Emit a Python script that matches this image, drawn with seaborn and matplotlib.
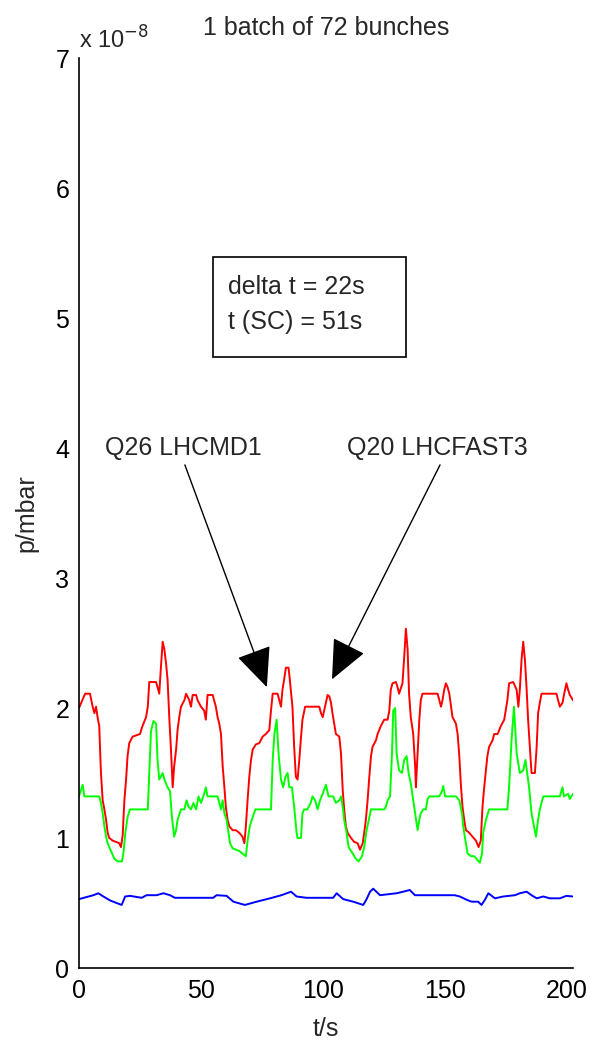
import matplotlib
matplotlib.use("Agg")
import matplotlib.pyplot as plt
import seaborn as sns
from matplotlib.patches import Rectangle

# ---------------- data (pressure in units of 1e-8 mbar) ----------------
red_t = [0, 2.5, 4.5, 5.6, 6.3, 7, 7.6, 8.3, 9, 9.7, 10.4, 11.1, 11.75, 12.4, 13.8, 15.2, 16.5, 17.2, 17.9, 18.6,
         19.3, 19.9, 20.6, 22, 25, 26, 27.5, 28.2, 28.8, 31.6, 32.2, 32.9, 33.6, 34.3, 35, 35.7, 36.3, 37, 37.7, 38.4,
         39, 39.8, 40.4, 41.1, 41.8, 43.2, 43.9, 45.2, 45.9, 46.6, 48, 48.6, 50, 51.3, 52, 52.7, 54.8, 56.1, 56.8, 57.5,
         58.2, 58.9, 59.6, 60.2, 60.9, 61.6, 63, 64.3, 65.7, 67, 67.8, 68.4, 69.1, 69.8, 70.5, 71.2, 72.5, 73.9, 75.3, 76.6,
         78, 78.7, 79.4, 81.4, 82.1, 82.8, 83.4, 84.1, 84.8, 85.9, 86.4, 87.5, 88.2, 88.9, 89.6, 90.3, 90.9, 91.6, 92.7, 98.5,
         99.2, 99.9, 100.5, 101.2, 101.9, 102.6, 103.3, 103.9, 104.6, 105.3, 106.7, 107.4, 108.1, 108.7, 109.4, 110.1, 111.5, 112.8, 114.2, 115.2,
         116.3, 116.9, 117.6, 118.3, 119, 119.7, 120.3, 121.7, 122.4, 123.7, 125.1, 126.5, 127.2, 127.8, 128.5, 129.9, 130.6, 131.2, 132.6, 133.3,
         134, 134.7, 135.3, 136, 137, 137.8, 138.1, 138.8, 139.5, 140.1, 140.8, 147, 147.7, 148.4, 149, 149.7, 150.4, 151.1, 151.8, 152.5,
         153.1, 154.5, 155.2, 155.9, 156.5, 157.2, 157.9, 158.6, 160, 161.3, 162.7, 163.8, 164.7, 165.4, 166.1, 166.8, 167.4, 168.1, 169.5, 170.2,
         171.6, 172.9, 174.3, 174.9, 175.6, 176.3, 178, 179.4, 180.1, 180.7, 181.4, 182.1, 182.8, 183.5, 184.1, 184.8, 185.5, 186.9, 187.6, 188.2,
         188.9, 189.6, 195.7, 196.4, 197.1, 198.2, 198.9, 199.8, 200.5, 201.2, 202.5]
red_p = [2.00, 2.11, 2.11, 2.01, 1.96, 2.01, 1.93, 1.86, 1.50, 1.29, 1.22, 1.14, 1.04, 1.00, 0.98, 0.97, 0.96, 0.93, 1.02, 1.29,
         1.45, 1.63, 1.73, 1.78, 1.80, 1.86, 1.93, 2.01, 2.20, 2.20, 2.16, 2.11, 2.32, 2.51, 2.45, 2.34, 2.22, 1.93, 1.68, 1.39,
         1.55, 1.68, 1.83, 1.93, 2.01, 2.06, 2.11, 2.06, 2.01, 2.10, 2.10, 2.06, 2.01, 1.98, 1.91, 2.10, 2.10, 2.01, 1.93, 1.88,
         1.80, 1.55, 1.39, 1.24, 1.14, 1.09, 1.06, 1.06, 1.04, 1.01, 0.96, 1.09, 1.29, 1.47, 1.60, 1.68, 1.72, 1.73, 1.78, 1.80,
         1.83, 1.98, 2.11, 2.11, 2.06, 2.01, 2.14, 2.22, 2.31, 2.31, 2.22, 2.01, 1.70, 1.47, 1.45, 1.60, 1.75, 1.91, 2.01, 2.01,
         1.96, 1.93, 1.98, 2.04, 2.10, 2.09, 2.04, 1.96, 1.88, 1.80, 1.78, 1.65, 1.37, 1.22, 1.09, 1.04, 1.00, 0.97, 0.96, 0.91,
         0.96, 1.04, 1.14, 1.29, 1.47, 1.63, 1.70, 1.75, 1.80, 1.86, 1.91, 1.91, 1.98, 2.14, 2.19, 2.20, 2.16, 2.11, 2.19, 2.39,
         2.61, 2.45, 2.11, 1.93, 1.80, 1.55, 1.39, 1.65, 1.91, 2.06, 2.11, 2.11, 2.06, 2.01, 2.06, 2.14, 2.19, 2.16, 2.11, 2.01,
         1.93, 1.88, 1.80, 1.63, 1.42, 1.24, 1.14, 1.06, 1.04, 1.01, 0.98, 0.93, 0.98, 1.24, 1.39, 1.52, 1.63, 1.70, 1.75, 1.80,
         1.80, 1.86, 1.91, 1.98, 2.06, 2.19, 2.20, 2.14, 2.01, 2.14, 2.37, 2.51, 2.37, 2.14, 1.91, 1.70, 1.50, 1.50, 1.70, 1.96,
         2.04, 2.11, 2.11, 2.06, 2.01, 2.04, 2.11, 2.19, 2.14, 2.10, 2.06]

green_t = [0, 1.5, 2.2, 8.3, 9, 9.7, 10.4, 11.1, 11.75, 13.1, 14.5, 15.9, 17.6, 18.2, 19, 19.9, 20.9, 28.2, 28.8, 29.5,
           30.5, 31.6, 32.2, 32.9, 34.3, 35, 36.3, 37.3, 38.1, 39, 39.8, 40.4, 41.8, 43.2, 44.1, 44.9, 45.9, 46.9, 48, 49,
           50, 51.3, 52, 52.7, 56.8, 57.5, 58.2, 58.9, 59.6, 60.5, 61.3, 61.9, 63, 64.3, 65.7, 67, 68.4, 69.1, 70, 71.2,
           72.3, 78.7, 79.4, 80.1, 81, 81.8, 82.8, 83.7, 84.6, 85.5, 86.2, 87.3, 88.2, 89.2, 89.6, 91, 91.6, 92.3, 93.6, 95,
           95.7, 96.8, 97.8, 98.8, 99.9, 101.2, 102.3, 104.2, 105.3, 106.7, 107.4, 108.1, 108.7, 109.7, 110.5, 112.2, 113.5, 114.6, 116, 116.9,
           117.9, 119, 119.7, 125.1, 125.8, 126.5, 127.5, 128.3, 128.8, 129.6, 130.2, 131.2, 132.4, 133.3, 134.3, 135.1, 136, 137, 137.8, 138.8,
           139.5, 140.1, 141.1, 142.2, 142.9, 143.6, 147.7, 148.8, 149.3, 150.1, 154.5, 155.9, 157, 157.5, 158.4, 159.3, 160.7, 162, 163.4, 164.3,
           165.2, 165.7, 166.8, 168.1, 175.6, 176.3, 177.3, 178.3, 178.7, 179.4, 180.7, 182.1, 183, 183.7, 184.5, 185.5, 186.5, 187.3, 188.2, 188.9,
           190.3, 197.1, 198.2, 198.8, 200.5, 201.2, 202.5]
green_p = [1.32, 1.41, 1.32, 1.32, 1.27, 1.19, 1.09, 1.01, 0.96, 0.90, 0.84, 0.82, 0.82, 0.88, 1.04, 1.16, 1.22, 1.22, 1.50, 1.82,
           1.90, 1.88, 1.60, 1.45, 1.50, 1.45, 1.39, 1.36, 1.16, 1.01, 1.06, 1.14, 1.22, 1.22, 1.29, 1.24, 1.22, 1.27, 1.22, 1.32,
           1.27, 1.34, 1.39, 1.32, 1.32, 1.27, 1.22, 1.29, 1.19, 1.14, 1.04, 0.96, 0.92, 0.91, 0.90, 0.88, 0.86, 0.98, 1.09, 1.16,
           1.22, 1.22, 1.60, 1.80, 1.91, 1.65, 1.45, 1.39, 1.47, 1.50, 1.39, 1.39, 1.24, 1.04, 1.00, 1.00, 1.19, 1.22, 1.22, 1.27,
           1.32, 1.29, 1.22, 1.29, 1.34, 1.41, 1.32, 1.32, 1.27, 1.29, 1.32, 1.24, 1.14, 1.04, 0.93, 0.88, 0.84, 0.82, 0.86, 0.93,
           1.06, 1.16, 1.22, 1.22, 1.24, 1.29, 1.32, 1.65, 1.98, 2.00, 1.65, 1.52, 1.50, 1.60, 1.63, 1.50, 1.42, 1.29, 1.19, 1.06,
           1.14, 1.19, 1.22, 1.22, 1.30, 1.32, 1.32, 1.36, 1.40, 1.32, 1.32, 1.29, 1.19, 1.09, 0.98, 0.88, 0.86, 0.86, 0.83, 0.81,
           0.88, 1.04, 1.14, 1.22, 1.22, 1.39, 1.75, 2.01, 1.88, 1.65, 1.50, 1.52, 1.60, 1.50, 1.39, 1.19, 1.09, 1.01, 1.14, 1.22,
           1.32, 1.32, 1.39, 1.32, 1.34, 1.30, 1.34]

blue_t = [0, 5.9, 7.9, 10, 12.7, 15.4, 17.5, 18.9, 20.9, 25.7, 27.7, 31.8, 34.6, 37.3, 39.3, 55, 56.4, 60.5, 63.3, 68,
          72.8, 78.3, 83, 86.9, 89.2, 93.3, 104.2, 105.6, 108.3, 112.4, 116.5, 117.9, 119.3, 120.6, 123.4, 130.2, 132.9, 135.6, 137.7, 154,
          156.1, 158.9, 160.9, 163.6, 165, 166.4, 167.8, 170.5, 173.9, 178.7, 180.7, 183.5, 185.5, 187.6, 190.3, 193, 197.1, 199.8, 202.5]
blue_p = [0.53, 0.56, 0.575, 0.55, 0.52, 0.50, 0.485, 0.55, 0.555, 0.54, 0.56, 0.56, 0.575, 0.56, 0.54, 0.54, 0.56, 0.555, 0.51, 0.485,
          0.51, 0.536, 0.56, 0.587, 0.55, 0.54, 0.54, 0.575, 0.53, 0.51, 0.485, 0.53, 0.587, 0.61, 0.56, 0.575, 0.587, 0.60, 0.56, 0.56,
          0.55, 0.525, 0.51, 0.51, 0.485, 0.525, 0.575, 0.536, 0.55, 0.56, 0.575, 0.587, 0.56, 0.536, 0.55, 0.536, 0.536, 0.555, 0.55]

x_ticks = [0, 50, 100, 150, 200]
y_ticks = [0, 1, 2, 3, 4, 5, 6, 7]
title_text = "1 batch of 72 bunches"
info_lines = ["delta t = 22s", "t (SC) = 51s"]
labels = ["Q26 LHCMD1", "Q20 LHCFAST3"]

# ---------------- styling ----------------
sns.set_theme(style="white")
plt.rcParams["font.family"] = ["Liberation Sans", "DejaVu Sans"]
FS = 18

fig = plt.figure(figsize=(5.91, 10.44), dpi=100)
ax = fig.add_axes([79 / 591, 1 - 968 / 1044, 494 / 591, 910 / 1044])

for t, p, c in [(red_t, red_p, "#ff0000"), (green_t, green_p, "#00ff00"), (blue_t, blue_p, "#0000ff")]:
    sns.lineplot(x=t, y=p, ax=ax, color=c, lw=1.4, estimator=None, sort=False)

ax.set_xlim(0, 202.5)
ax.set_ylim(0, 7)
ax.set_xticks(x_ticks)
ax.set_yticks(y_ticks)
for s in ["top", "right"]:
    ax.spines[s].set_visible(False)
for s in ["left", "bottom"]:
    ax.spines[s].set_color("black")
    ax.spines[s].set_linewidth(1.2)
ax.tick_params(axis="both", direction="in", length=8, width=1.2, colors="black", labelsize=FS)
ax.tick_params(axis="x", pad=8)
ax.tick_params(axis="y", pad=7)
ax.set_xlabel("t/s", fontsize=FS, labelpad=10)
ax.set_ylabel("p/mbar", fontsize=FS, labelpad=12)

ax.text(0.5, 1.033, title_text, transform=ax.transAxes, ha="center", va="center", fontsize=FS)
ax.text(0.0, 1.02, "x 10$^{-8}$", transform=ax.transAxes, ha="left", va="center", fontsize=FS - 1)

# info box
ax.add_patch(Rectangle((0.271, 0.671), 0.391, 0.110, transform=ax.transAxes,
                       fill=False, edgecolor="black", lw=1.2))
ax.text(0.302, 0.748, info_lines[0], transform=ax.transAxes, ha="left", va="center", fontsize=FS)
ax.text(0.302, 0.710, info_lines[1], transform=ax.transAxes, ha="left", va="center", fontsize=FS)

# arrows with labels
arrow_kw = dict(arrowstyle="-|>,head_length=0.9,head_width=0.4", mutation_scale=28, lw=1.0,
                color="black", shrinkA=0, shrinkB=0)
ax.annotate("", xy=(77, 2.16), xytext=(43.4, 3.87), arrowprops=arrow_kw)
ax.annotate("", xy=(103.7, 2.22), xytext=(148, 3.87), arrowprops=arrow_kw)
ax.text(42.6, 4.0, labels[0], ha="center", va="center", fontsize=FS)
ax.text(147, 4.0, labels[1], ha="center", va="center", fontsize=FS)

fig.savefig("out.png", dpi=100, facecolor="white")
